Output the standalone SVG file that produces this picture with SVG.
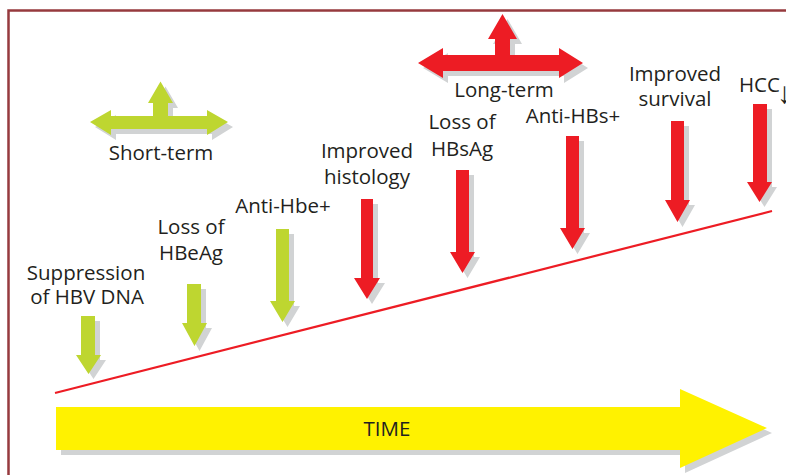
<svg xmlns="http://www.w3.org/2000/svg" width="786" height="475" viewBox="0 0 786 475">
<style>
.sh{fill:#D1D3D4}
.g{fill:#BED630}
.r{fill:#ED1C24}
.y{fill:#FFF200}
.t{font-family:"Open Sans","Liberation Sans",sans-serif;font-size:20.5px;fill:#231F20;text-anchor:middle}
.frame{fill:none;stroke:#963A3E;stroke-width:2.5}
.line{stroke:#ED1C24;stroke-width:2.2;fill:none}
</style>
<rect class="frame" x="8.5" y="10.5" width="800" height="500"/>
<g id="connectors">
<line class="line" x1="55" y1="393" x2="772" y2="211"/>
</g>
<g id="time">
<path class="sh" transform="translate(5,5)" d="M56,407 H680 V389 L767,428 L680,468 V450 H56 Z"/>
<path class="y" d="M56,407 H680 V389 L767,428 L680,468 V450 H56 Z"/>
<text class="t" x="387" y="436">TIME</text>
</g>
<g id="short-term">
<path class="sh" transform="translate(5,5)" d="M90,122 L111,110 V116 H153 V103 H148 L160.5,81.5 L173,103 H168 V116 H207 V110 L228,122 L207,135 V129 H111 V135 Z"/>
<path class="g" d="M90,122 L111,110 V116 H153 V103 H148 L160.5,81.5 L173,103 H168 V116 H207 V110 L228,122 L207,135 V129 H111 V135 Z"/>
<text class="t" x="161" y="160">Short-term</text>
</g>
<g id="long-term">
<path class="sh" transform="translate(5,5)" d="M418,63 L443,48 V55 H495 V39 H488 L502.5,14 L517,39 H510 V55 H559 V48 L583,63 L559,78 V71 H443 V78 Z"/>
<path class="r" d="M418,63 L443,48 V55 H495 V39 H488 L502.5,14 L517,39 H510 V55 H559 V48 L583,63 L559,78 V71 H443 V78 Z"/>
<text class="t" x="504" y="97">Long-term</text>
</g>
<g id="suppression">
<path class="sh" transform="translate(5,5)" d="M81,316 H95 V355 H101 L88.5,374 L76,355 H81 Z"/>
<path class="g" d="M81,316 H95 V355 H101 L88.5,374 L76,355 H81 Z"/>
<text class="t" x="86" y="280">Suppression</text>
<text class="t" x="87" y="304">of HBV DNA</text>
</g>
<g id="loss-hbeag">
<path class="sh" transform="translate(5,5)" d="M187,284 H201 V323 H207 L194.5,346 L182,323 H187 Z"/>
<path class="g" d="M187,284 H201 V323 H207 L194.5,346 L182,323 H187 Z"/>
<text class="t" x="191" y="234">Loss of</text>
<text class="t" x="191" y="260">HBeAg</text>
</g>
<g id="anti-hbe">
<path class="sh" transform="translate(5,5)" d="M276,229 H289 V301 H295 L282.5,322 L270,301 H276 Z"/>
<path class="g" d="M276,229 H289 V301 H295 L282.5,322 L270,301 H276 Z"/>
<text class="t" x="283" y="213">Anti-Hbe+</text>
</g>
<g id="histology">
<path class="sh" transform="translate(5,5)" d="M361,199 H373 V278 H380 L367,299 L354,278 H361 Z"/>
<path class="r" d="M361,199 H373 V278 H380 L367,299 L354,278 H361 Z"/>
<text class="t" x="367" y="158">Improved</text>
<text class="t" x="367" y="184">histology</text>
</g>
<g id="loss-hbsag">
<path class="sh" transform="translate(5,5)" d="M456,170 H469 V252 H475 L462.5,273 L450,252 H456 Z"/>
<path class="r" d="M456,170 H469 V252 H475 L462.5,273 L450,252 H456 Z"/>
<text class="t" x="462" y="129">Loss of</text>
<text class="t" x="462" y="156">HBsAg</text>
</g>
<g id="anti-hbs">
<path class="sh" transform="translate(5,5)" d="M566,136 H579 V228 H585 L572.5,249 L560,228 H566 Z"/>
<path class="r" d="M566,136 H579 V228 H585 L572.5,249 L560,228 H566 Z"/>
<text class="t" x="573" y="123">Anti-HBs+</text>
</g>
<g id="survival">
<path class="sh" transform="translate(5,5)" d="M671,121 H684 V200 H690 L677.5,222 L665,200 H671 Z"/>
<path class="r" d="M671,121 H684 V200 H690 L677.5,222 L665,200 H671 Z"/>
<text class="t" x="675" y="81">Improved</text>
<text class="t" x="675" y="106">survival</text>
</g>
<g id="hcc">
<path class="sh" transform="translate(5,5)" d="M753,104 H767 V182 H772 L759.5,202 L747,182 H753 Z"/>
<path class="r" d="M753,104 H767 V182 H772 L759.5,202 L747,182 H753 Z"/>
<text class="t" x="739" y="92" style="text-anchor:start">HCC<tspan dx="-3" dy="11" style="font-family:'Liberation Sans',sans-serif;font-size:30px">↓</tspan></text>
</g>
</svg>
